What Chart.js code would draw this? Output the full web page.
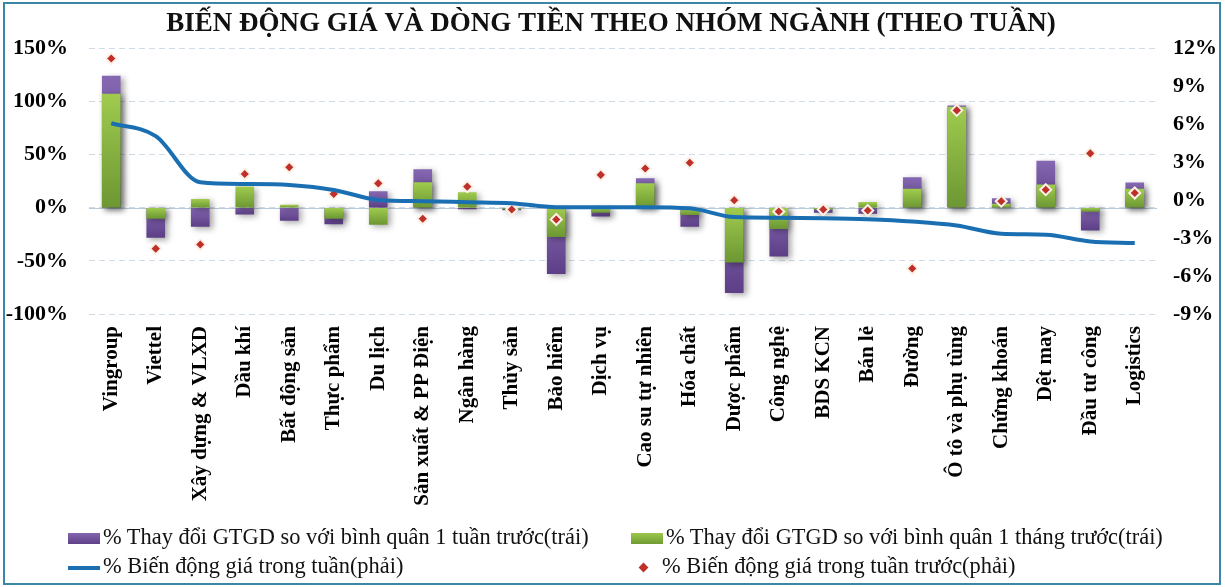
<!DOCTYPE html>
<html>
<head>
<meta charset="utf-8">
<script src="https://cdn.jsdelivr.net/npm/chart.js@4.4.1/dist/chart.umd.min.js"></script>
<style>
  html, body { margin: 0; padding: 0; background: #fff; }
  #wrap { position: relative; width: 1225px; height: 587px; overflow: hidden; }
  #frame { position: absolute; left: 3px; top: 2px; right: 4px; bottom: 2px; border: 2px solid #3a86a6; pointer-events: none; }
  #chart { position: absolute; left: 0; top: 0; }
  .leg { position: absolute; font-family: "Liberation Serif", "Times New Roman", serif; font-size: 22.4px; color: #111; white-space: nowrap; line-height: 22px; }
  .sw { display: inline-block; vertical-align: middle; margin-right: 3px; }
</style>
</head>
<body>
<div id="wrap">
  <canvas id="chart" width="1225" height="587"></canvas>
  <div class="leg" style="left:68px; top:526px;"><span class="sw" style="width:32px;height:11px;background:linear-gradient(#8366b0,#5f4189);"></span>% Thay đổi GTGD so với bình quân 1 tuần trước(trái)</div>
  <div class="leg" style="left:631px; top:526px;"><span class="sw" style="width:32px;height:11px;background:linear-gradient(#9dc84c,#6f9a35);"></span>% Thay đổi GTGD so với bình quân 1 tháng trước(trái)</div>
  <div class="leg" style="left:68px; top:555px;"><span class="sw" style="width:32px;height:4px;background:#1a6fb3;"></span>% Biến động giá trong tuần(phải)</div>
  <div class="leg" style="left:640px; top:555px;"><span class="sw" style="width:7px;height:7px;background:#c0302b;transform:rotate(45deg);margin-right:15px;"></span>% Biến động giá trong tuần trước(phải)</div>
  <div id="frame"></div>
</div>
<script>
const categories = ["Vingroup", "Viettel", "Xây dựng & VLXD", "Dầu khí", "Bất động sản", "Thực phẩm", "Du lịch",
  "Sản xuất & PP Điện", "Ngân hàng", "Thủy sản", "Bảo hiểm", "Dịch vụ", "Cao su tự nhiên", "Hóa chất",
  "Dược phẩm", "Công nghệ", "BDS KCN", "Bán lẻ", "Đường", "Ô tô và phụ tùng", "Chứng khoán", "Dệt may",
  "Đầu tư công", "Logistics"];

// % thay doi GTGD so voi 1 tuan truoc (trai)
const weekValue = [124, -28, -17.5, -6, -12, -15.3, 15.3, 36, -1.2, -2, -62, -8, 27.5, -17.5, -80, -45.6,
  -4.4, -5.3, 28.4, 96, 8.7, 44, -21, 23.4];
// % thay doi GTGD so voi 1 thang truoc (trai)
const monthValue = [107, -10, 8, 19.7, 2.5, -10, -15.6, 23.8, 14.4, -1, -27.2, -4.4, 22.8, -6.6, -51.3, -19.7,
  -1.5, 5, 17.5, 94.7, 3.4, 21.6, -3.5, 17.5];
// % bien dong gia trong tuan (phai)
const priceWeek = [6.08, 5.06, 1.41, 1.28, 1.2, 0.81, 0.02, -0.08, -0.16, -0.24, -0.55, -0.55, -0.55, -0.64,
  -1.34, -1.39, -1.42, -1.5, -1.68, -2.0, -2.65, -2.73, -3.26, -3.39];
// % bien dong gia tuan truoc (phai)
const pricePrevWeek = [11.2, -3.83, -3.5, 2.07, 2.6, 0.5, 1.33, -1.47, 1.07, -0.74, -1.53, 2.0, 2.5, 2.96, 0,
  -0.9, -0.74, -0.82, -5.4, 7.1, -0.08, 0.83, 3.7, 0.57];

const leftTicks = { min: -100, max: 150, step: 50 };
const rightTicks = { min: -9, max: 12, step: 3 };

const serif = "'Liberation Serif', 'Times New Roman', serif";

// gradient for each bar, light on top, dark at bottom
const barFill = (light, dark) => (ctx) => {
  const chart = ctx.chart;
  const ys = chart.scales.y;
  if (!ys || ctx.type !== "data") return dark;
  const a = ys.getPixelForValue(0);
  const b = ys.getPixelForValue(ctx.raw);
  if (!isFinite(a) || !isFinite(b) || Math.abs(a - b) < 1) return dark;
  const g = chart.ctx.createLinearGradient(0, Math.min(a, b), 0, Math.max(a, b));
  g.addColorStop(0, light);
  g.addColorStop(1, dark);
  return g;
};

const barShadow = {
  id: "barShadow",
  beforeDatasetDraw(chart, args) {
    if (args.meta.type !== "bar") return;
    const c = chart.ctx;
    c.save();
    c.shadowColor = "rgba(0,0,0,0.35)";
    c.shadowBlur = 6;
    c.shadowOffsetX = 3;
    c.shadowOffsetY = 2;
  },
  afterDatasetDraw(chart, args) {
    if (args.meta.type !== "bar") return;
    chart.ctx.restore();
  },
};

const zeroLine = {
  id: "zeroLine",
  beforeDatasetsDraw(chart) {
    const c = chart.ctx;
    const y = Math.round(chart.scales.y.getPixelForValue(0)) + 0.5;
    c.save();
    c.strokeStyle = "#b9cad9";
    c.lineWidth = 1;
    c.beginPath();
    c.moveTo(chart.chartArea.left, y);
    c.lineTo(chart.chartArea.right, y);
    c.stroke();
    c.restore();
  },
};

new Chart(document.getElementById("chart"), {
  data: {
    labels: categories,
    datasets: [
      {
        type: "line",
        label: "% Biến động giá trong tuần(phải)",
        data: priceWeek,
        yAxisID: "y1",
        borderColor: "#1a6fb3",
        borderWidth: 4,
        pointRadius: 0,
        cubicInterpolationMode: "monotone",
        order: 0,
      },
      {
        type: "line",
        label: "% Biến động giá trong tuần trước(phải)",
        data: pricePrevWeek,
        yAxisID: "y1",
        showLine: false,
        pointStyle: "rectRot",
        pointRadius: 5.5,
        pointBackgroundColor: "#c0302b",
        pointBorderColor: "#fbf1e6",
        pointBorderWidth: 2,
        order: 1,
      },
      {
        type: "bar",
        label: "% Thay đổi GTGD so với bình quân 1 tháng trước(trái)",
        data: monthValue,
        yAxisID: "y",
        grouped: false,
        barThickness: 18,
        backgroundColor: barFill("#a0cb4e", "#6c9733"),
        order: 2,
      },
      {
        type: "bar",
        label: "% Thay đổi GTGD so với bình quân 1 tuần trước(trái)",
        data: weekValue,
        yAxisID: "y",
        grouped: false,
        barThickness: 18,
        backgroundColor: barFill("#8567b2", "#5d3f87"),
        order: 3,
      },
    ],
  },
  options: {
    responsive: false,
    animation: false,
    layout: { padding: { left: 5, right: 8, top: 4, bottom: 73 } },
    plugins: {
      legend: { display: false },
      tooltip: { enabled: false },
      title: {
        display: true,
        text: "BIẾN ĐỘNG GIÁ VÀ DÒNG TIỀN THEO NHÓM NGÀNH (THEO TUẦN)",
        color: "#111",
        font: { family: serif, size: 27, weight: "bold" },
        padding: { top: 4, bottom: 8 },
      },
    },
    scales: {
      x: {
        grid: { display: false },
        border: { display: false },
        ticks: {
          autoSkip: false,
          minRotation: 90,
          maxRotation: 90,
          padding: 4,
          color: "#000",
          font: { family: serif, size: 21, weight: "bold" },
        },
        afterFit: (s) => { s.paddingLeft = 0; s.paddingRight = 0; s.height = 200; },
      },
      y: {
        position: "left",
        min: leftTicks.min,
        max: leftTicks.max,
        grid: { color: "#cfdbe6", drawTicks: false, tickLength: 0 },
        border: { display: false, dash: [6, 4] },
        ticks: {
          stepSize: leftTicks.step,
          padding: 21,
          color: "#000",
          font: { family: serif, size: 22, weight: "bold" },
          callback: (v) => v + "%",
        },
        afterFit: (s) => { s.width = 84; },
      },
      y1: {
        position: "right",
        min: rightTicks.min,
        max: rightTicks.max,
        grid: { drawOnChartArea: false, display: false, drawTicks: false, tickLength: 0 },
        border: { display: false },
        ticks: {
          stepSize: rightTicks.step,
          padding: 16,
          color: "#000",
          font: { family: serif, size: 22, weight: "bold" },
          callback: (v) => v + "%",
        },
        afterFit: (s) => { s.width = 60; },
      },
    },
  },
  plugins: [barShadow, zeroLine],
});
</script>
</body>
</html>
